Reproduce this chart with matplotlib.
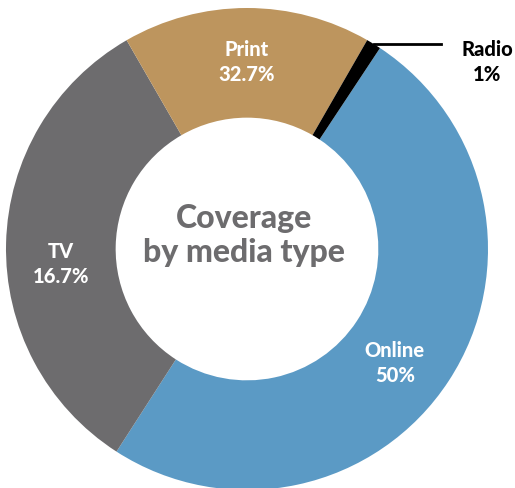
import numpy as np
import matplotlib.pyplot as plt

# data
media = ["Online", "TV", "Print", "Radio"]
shares = [50, 32.7, 16.7, 1]
pct_text = ["50%", "16.7%", "32.7%", "1%"]
colors = ["#5B9AC5", "#6D6C6E", "#BD955E", "#000000"]

plt.rcParams['font.family'] = ['Lato', 'DejaVu Sans']

fig = plt.figure(figsize=(5.15, 4.88), dpi=100)
ax = fig.add_axes([6/515, -2/488, 482/515, 482/488])

wedges, _ = ax.pie(shares, colors=colors, startangle=56.5, counterclock=False,
                   radius=1, wedgeprops=dict(width=0.455, linewidth=0))
for w in wedges:
    w.set_clip_on(False)

# labels inside the ring (small angle nudges to sit like the original)
nudge = [-4.5, 6, 0]
for w, name, pct, dn in zip(wedges[:3], media[:3], pct_text[:3], nudge):
    ang = np.deg2rad((w.theta1 + w.theta2) / 2 + dn)
    r = 0.775
    ax.text(r*np.cos(ang), r*np.sin(ang), name + "\n" + pct, ha="center", va="center",
            color="white", fontsize=14.5, fontweight="black", linespacing=1.4)

# radio callout
w = wedges[3]
ang = np.deg2rad((w.theta1 + w.theta2) / 2)
x0, y0 = np.cos(ang), np.sin(ang)
ax.plot([x0, 0.805], [y0, y0], color="black", lw=2, clip_on=False)
ax.text(0.996, 0.775, media[3] + "\n" + pct_text[3], ha="center", va="center",
        color="black", fontsize=14.5, fontweight="black", linespacing=1.4)

ax.text(-0.012, 0.055, "Coverage\nby media type", ha="center", va="center",
        color="#6D6C6E", fontsize=23, fontweight="black", linespacing=1.2)

ax.set_xlim(-1, 1)
ax.set_ylim(-1, 1)
ax.set_aspect("equal")
ax.axis("off")

fig.savefig("out.png", dpi=100)
